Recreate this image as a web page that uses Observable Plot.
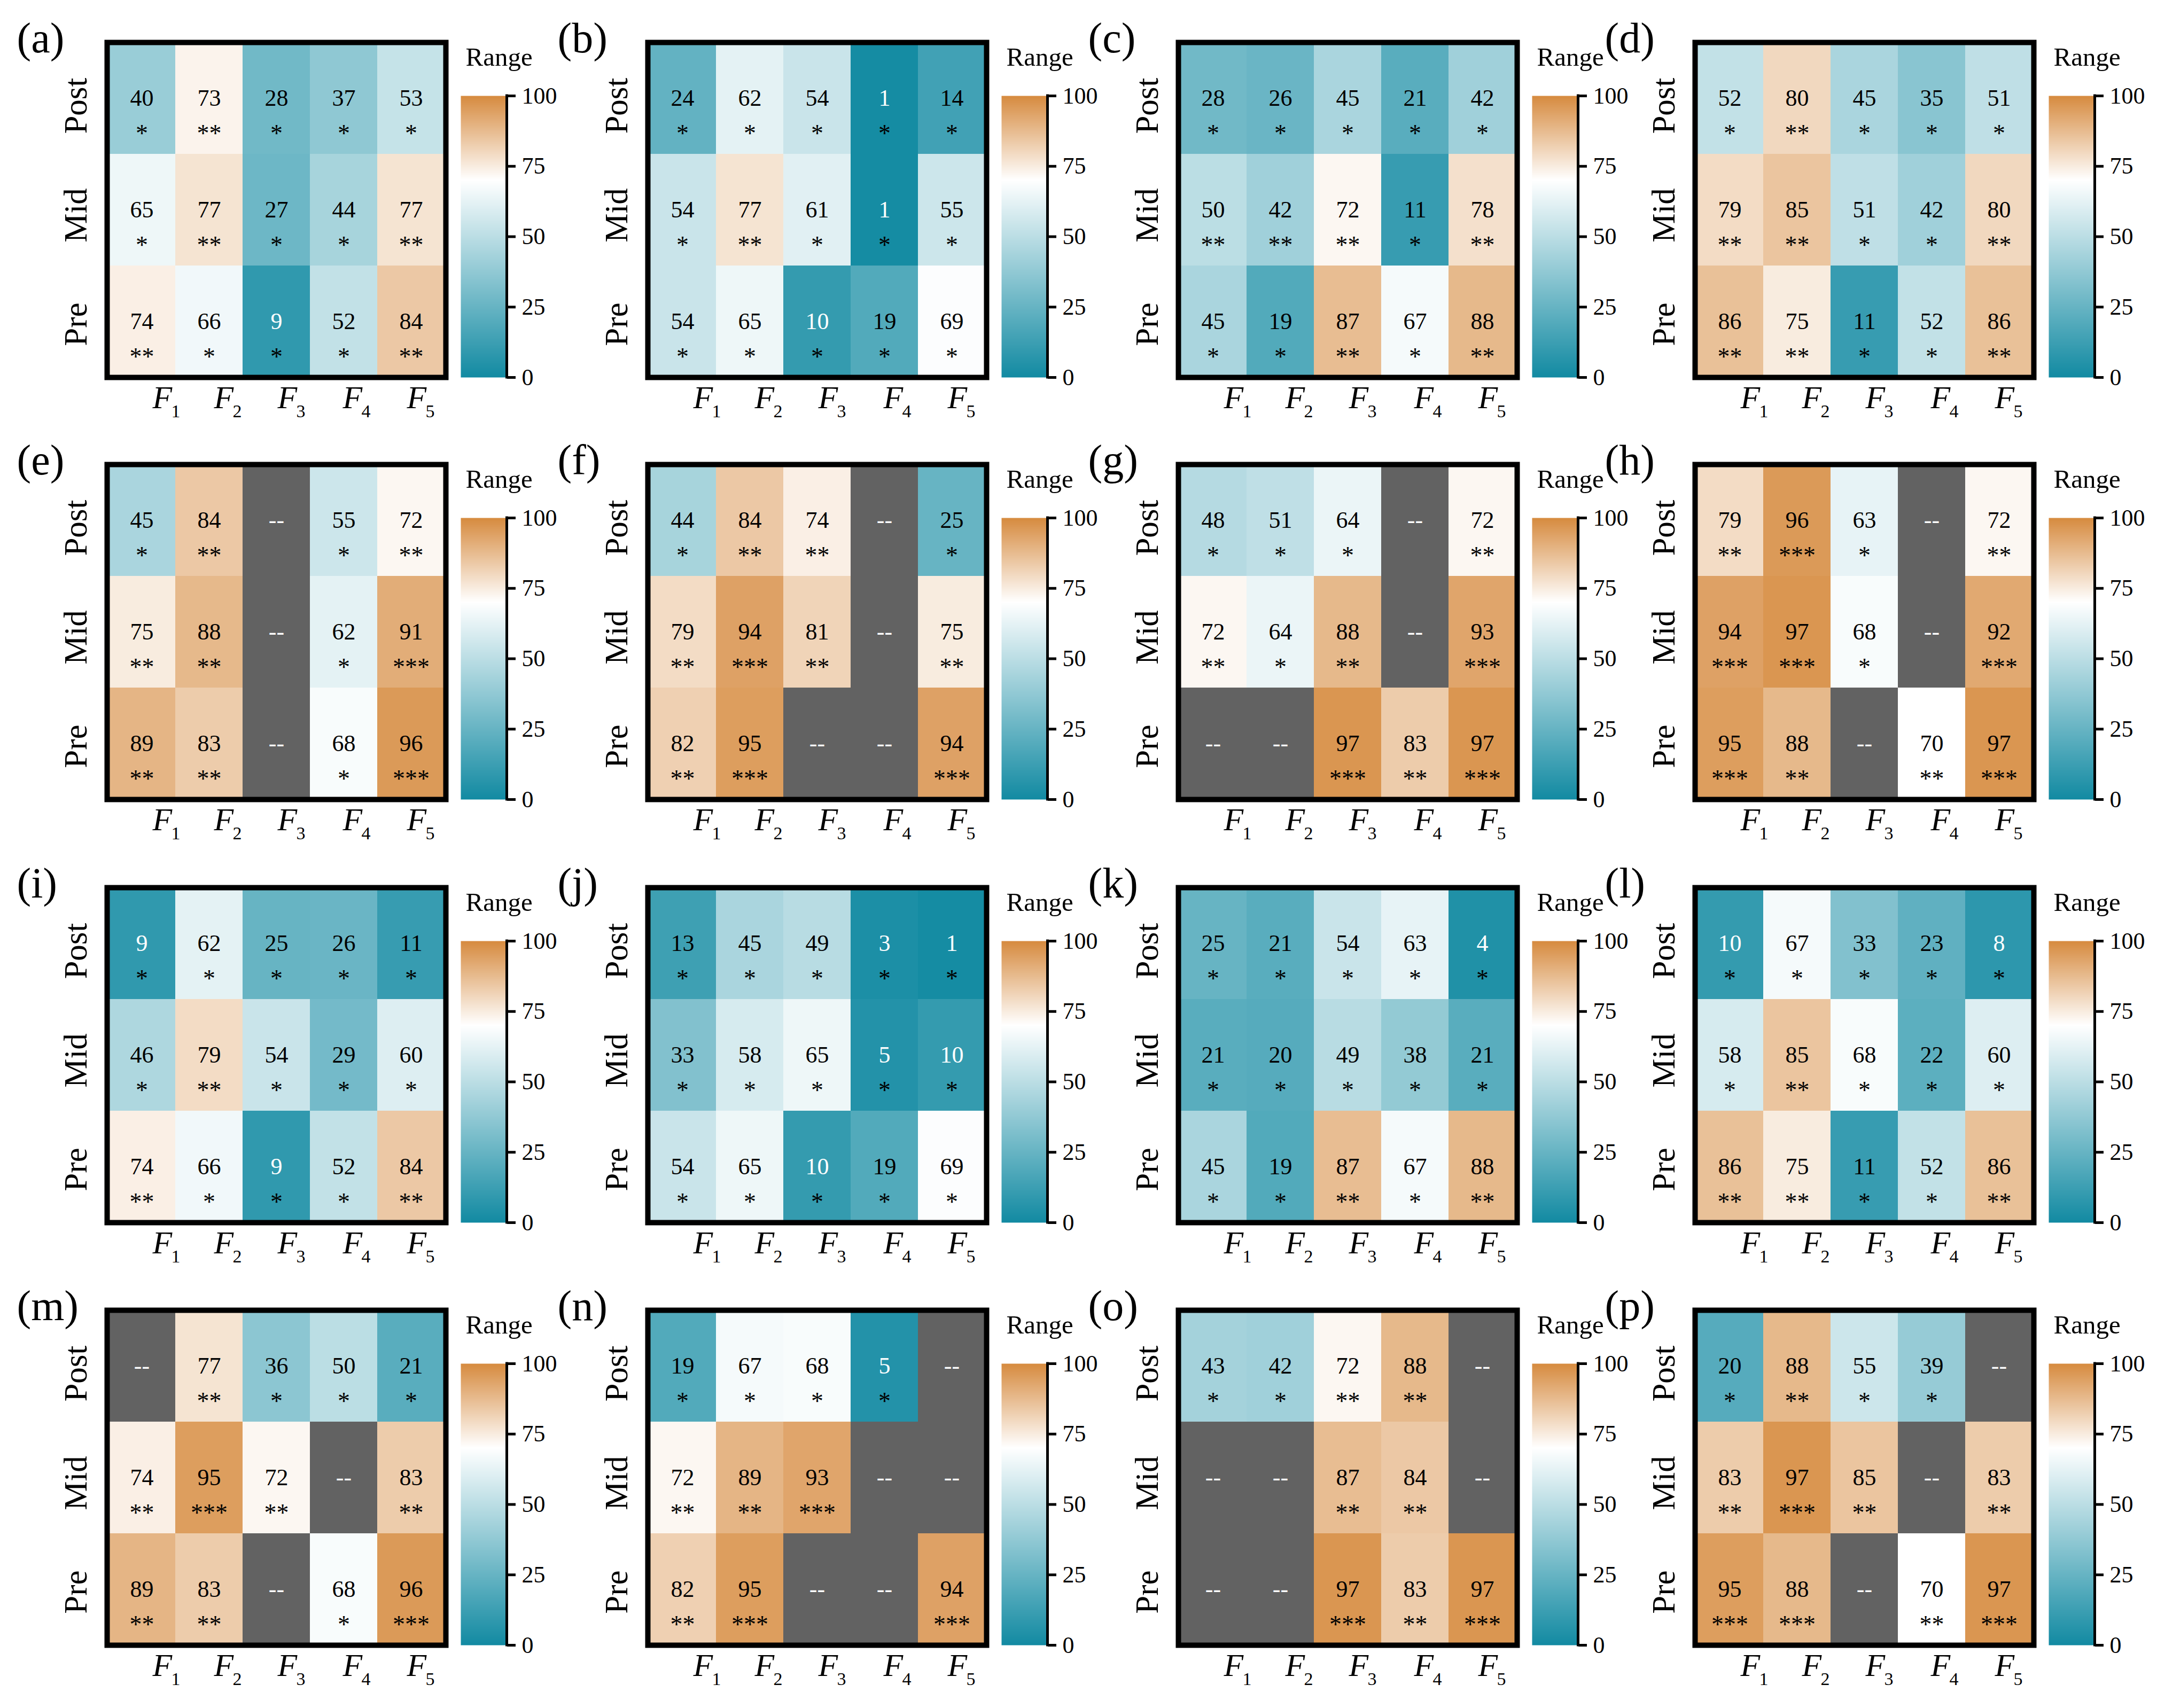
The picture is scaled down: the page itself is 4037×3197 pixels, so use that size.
<!DOCTYPE html>
<html><head><meta charset="utf-8">
<script src="https://cdn.jsdelivr.net/npm/d3@7"></script>
<script src="https://cdn.jsdelivr.net/npm/@observablehq/plot@0.6"></script>
<style>
html,body{margin:0;padding:0;background:#fff;}
#page{position:relative;width:4037px;height:3197px;overflow:hidden;background:#fff;}
.abs{position:absolute;}
.abs svg{display:block;max-width:none;overflow:visible;}
#page svg, #page svg text{font-family:"Liberation Serif","Times New Roman",Times,"DejaVu Serif",serif !important;}
</style></head><body><div id="page"></div>
<script>
// ---------- data ----------
const factors = ["F1", "F2", "F3", "F4", "F5"];
const factorSub = ["1", "2", "3", "4", "5"];
const periods = ["Post", "Mid", "Pre"];
const panelNames = ["(a)","(b)","(c)","(d)","(e)","(f)","(g)","(h)","(i)","(j)","(k)","(l)","(m)","(n)","(o)","(p)"];
const colorbarTicks = [0, 25, 50, 75, 100];
const legendTitle = "Range";
const missingText = "--";

const values_a = [[40,73,28,37,53],[65,77,27,44,77],[74,66,9,52,84]];
const stars_a  = [["*","**","*","*","*"],["*","**","*","*","**"],["**","*","*","*","**"]];
const values_b = [[24,62,54,1,14],[54,77,61,1,55],[54,65,10,19,69]];
const stars_b  = [["*","*","*","*","*"],["*","**","*","*","*"],["*","*","*","*","*"]];
const values_c = [[28,26,45,21,42],[50,42,72,11,78],[45,19,87,67,88]];
const stars_c  = [["*","*","*","*","*"],["**","**","**","*","**"],["*","*","**","*","**"]];
const values_d = [[52,80,45,35,51],[79,85,51,42,80],[86,75,11,52,86]];
const stars_d  = [["*","**","*","*","*"],["**","**","*","*","**"],["**","**","*","*","**"]];
const values_e = [[45,84,null,55,72],[75,88,null,62,91],[89,83,null,68,96]];
const stars_e  = [["*","**","","*","**"],["**","**","","*","***"],["**","**","","*","***"]];
const values_f = [[44,84,74,null,25],[79,94,81,null,75],[82,95,null,null,94]];
const stars_f  = [["*","**","**","","*"],["**","***","**","","**"],["**","***","","","***"]];
const values_g = [[48,51,64,null,72],[72,64,88,null,93],[null,null,97,83,97]];
const stars_g  = [["*","*","*","","**"],["**","*","**","","***"],["","","***","**","***"]];
const values_h = [[79,96,63,null,72],[94,97,68,null,92],[95,88,null,70,97]];
const stars_h  = [["**","***","*","","**"],["***","***","*","","***"],["***","**","","**","***"]];
const values_i = [[9,62,25,26,11],[46,79,54,29,60],[74,66,9,52,84]];
const stars_i  = [["*","*","*","*","*"],["*","**","*","*","*"],["**","*","*","*","**"]];
const values_j = [[13,45,49,3,1],[33,58,65,5,10],[54,65,10,19,69]];
const stars_j  = [["*","*","*","*","*"],["*","*","*","*","*"],["*","*","*","*","*"]];
const values_k = [[25,21,54,63,4],[21,20,49,38,21],[45,19,87,67,88]];
const stars_k  = [["*","*","*","*","*"],["*","*","*","*","*"],["*","*","**","*","**"]];
const values_l = [[10,67,33,23,8],[58,85,68,22,60],[86,75,11,52,86]];
const stars_l  = [["*","*","*","*","*"],["*","**","*","*","*"],["**","**","*","*","**"]];
const values_m = [[null,77,36,50,21],[74,95,72,null,83],[89,83,null,68,96]];
const stars_m  = [["","**","*","*","*"],["**","***","**","","**"],["**","**","","*","***"]];
const values_n = [[19,67,68,5,null],[72,89,93,null,null],[82,95,null,null,94]];
const stars_n  = [["*","*","*","*",""],["**","**","***","",""],["**","***","","","***"]];
const values_o = [[43,42,72,88,null],[null,null,87,84,null],[null,null,97,83,97]];
const stars_o  = [["*","*","**","**",""],["","","**","**",""],["","","***","**","***"]];
const values_p = [[20,88,55,39,null],[83,97,85,null,83],[95,88,null,70,97]];
const stars_p  = [["*","**","*","*",""],["**","***","**","","**"],["***","***","","**","***"]];

const panelValues = [values_a,values_b,values_c,values_d,values_e,values_f,values_g,values_h,
                     values_i,values_j,values_k,values_l,values_m,values_n,values_o,values_p];
const panelStars  = [stars_a,stars_b,stars_c,stars_d,stars_e,stars_f,stars_g,stars_h,
                     stars_i,stars_j,stars_k,stars_l,stars_m,stars_n,stars_o,stars_p];

// ---------- layout / style ----------
const FONT = '"Liberation Serif", "Times New Roman", Times, "DejaVu Serif", serif';
const colLeft = [200, 1212, 2205, 3172];
const rowTop = [74, 864, 1656, 2447];
const fDx = [20, 9, 2, -2, -8];
const yLabelDy = [14, 10, 5];

const colorScale = {type: "linear", domain: [0, 70, 100], range: ["#128aa2", "#ffffff", "#d68a3e"], interpolate: "rgb"};

function heatmap(V, S, label) {
  const data = [];
  periods.forEach((p, r) => factors.forEach((f, c) => data.push({f, p, v: V[r][c], s: S[r][c]})));
  const valid = data.filter(d => d.v != null);
  const missing = data.filter(d => d.v == null);
  const T = {fontFamily: FONT};
  return Plot.plot({
    width: 850, height: 800,
    marginLeft: 205, marginRight: 11, marginTop: 79, marginBottom: 94,
    style: {background: "transparent", fontFamily: FONT, color: "black", maxWidth: "none", overflow: "visible"},
    x: {domain: factors, padding: 0, axis: null},
    y: {domain: periods, padding: 0, axis: null},
    color: colorScale,
    marks: [
      Plot.cell(missing, {x: "f", y: "p", fill: "#626262", shapeRendering: "crispEdges"}),
      Plot.cell(valid, {x: "f", y: "p", fill: "v", shapeRendering: "crispEdges"}),
      Plot.text(valid.filter(d => d.v > 10), {...T, x: "f", y: "p", text: d => String(d.v), fill: "black", fontSize: 44}),
      Plot.text(valid.filter(d => d.v <= 10), {...T, x: "f", y: "p", text: d => String(d.v), fill: "white", fontSize: 44}),
      Plot.text(missing, {...T, x: "f", y: "p", text: () => missingText, fill: "white", fontSize: 44}),
      Plot.text(valid, {...T, x: "f", y: "p", text: "s", fill: "black", fontSize: 46, dy: 66}),
      Plot.frame({stroke: "black", strokeWidth: 10}),
      ...periods.map((p, i) => Plot.text([p], {...T, y: d => d, text: d => d, frameAnchor: "left", dx: -39, dy: yLabelDy[i],
        rotate: -90, fontSize: 61, lineAnchor: "bottom", textAnchor: "middle", fill: "black"})),
      ...factors.map((f, i) => Plot.text([f], {...T, x: d => d, text: () => "F", frameAnchor: "bottom", dx: fDx[i], dy: 57,
        fontSize: 60, fontStyle: "italic", lineAnchor: "bottom", textAnchor: "start", fill: "black"})),
      ...factors.map((f, i) => Plot.text([f], {...T, x: d => d, text: () => factorSub[i], frameAnchor: "bottom", dx: fDx[i] + 35, dy: 74,
        fontSize: 34, lineAnchor: "bottom", textAnchor: "start", fill: "black"})),
      Plot.text([label], {...T, frameAnchor: "top-left", dx: -169, dy: 18, lineAnchor: "bottom", textAnchor: "start", fontSize: 80, fill: "black"})
    ]
  });
}

function colorbar() {
  return Plot.plot({
    width: 228, height: 672,
    marginLeft: 12, marginRight: 130, marginTop: 105, marginBottom: 40,
    style: {background: "transparent", fontFamily: FONT, color: "black", maxWidth: "none", overflow: "visible"},
    x: {domain: [0, 1], axis: null},
    y: {domain: [0, 100], axis: null},
    color: colorScale,
    marks: [
      Plot.raster({fill: (x, y) => y, x1: 0, x2: 1, y1: 0, y2: 100, width: 2, height: 527, imageRendering: "pixelated"}),
      Plot.ruleX([1], {stroke: "black", strokeWidth: 5, strokeLinecap: "square"}),
      Plot.axisY(colorbarTicks, {anchor: "right", tickSize: 16, tickPadding: 12, strokeWidth: 5, fontSize: 44,
        tickFormat: d => String(d), stroke: "black", fill: "black", fontFamily: FONT}),
      Plot.text([legendTitle], {frameAnchor: "top-left", dx: 9, dy: -57, lineAnchor: "bottom", textAnchor: "start", fontSize: 49, fill: "black", fontFamily: FONT})
    ]
  });
}

const page = document.getElementById("page");
panelNames.forEach((name, k) => {
  const L = colLeft[k % 4], T = rowTop[Math.floor(k / 4)];
  const h = document.createElement("div");
  h.className = "abs";
  h.style.left = (L - 205) + "px";
  h.style.top = (T - 74) + "px";
  h.style.width = "850px";
  h.appendChild(heatmap(panelValues[k], panelStars[k], name));
  page.appendChild(h);
  const c = document.createElement("div");
  c.className = "abs";
  c.style.left = (L + 650) + "px";
  c.style.top = T + "px";
  c.style.width = "228px";
  c.appendChild(colorbar());
  page.appendChild(c);
});
</script></body></html>
